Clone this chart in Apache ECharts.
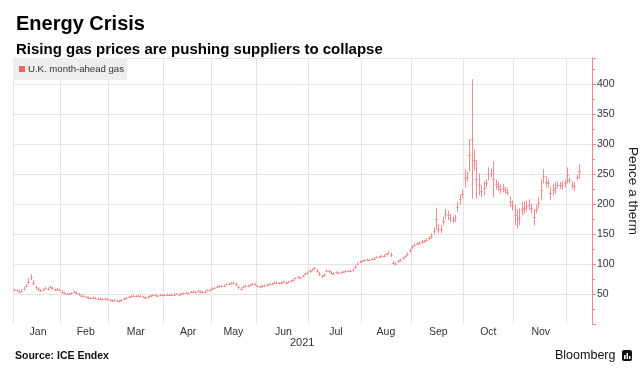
<!DOCTYPE html>
<html>
<head>
<meta charset="utf-8">
<script src="https://cdn.jsdelivr.net/npm/echarts@6/dist/echarts.min.js"></script>
<style>
html,body{margin:0;padding:0;background:#fff;}
#chart{width:643px;height:389px;}
</style>
</head>
<body>
<div id="chart"></div>
<script>
// U.K. month-ahead gas, daily trading range [low, high] in pence per therm, 2021
const jan = [[56,58],[55,57],[53,55],[54,57],[57,61],[62,66],[66,75],[74,82],[65,72],[59,63],[56,60],[54,57],[56,58],[58,61],[57,60],[60,63],[58,61],[56,58],[57,59],[56,58]];
const feb = [[52,55],[50,53],[49,51],[49,51],[50,52],[52,54],[51,53],[48,51],[46,48],[45,47],[44,46],[43,45],[42,44],[43,45],[42,44],[41,43],[41,43],[40,42],[41,43],[40,42]];
const mar = [[39,41],[38,40],[39,41],[38,40],[37,39],[39,41],[41,43],[42,44],[44,46],[45,47],[46,48],[45,47],[46,48],[45,47],[44,46],[43,45],[44,46],[46,48],[47,49],[47,49],[46,48],[47,49],[47,49]];
const apr = [[47,49],[48,50],[47,49],[48,50],[48,50],[49,51],[48,50],[49,51],[50,52],[51,53],[50,52],[52,54],[53,55],[52,54],[54,56],[53,55],[52,54],[53,55],[55,57],[56,58]];
const may = [[58,60],[59,61],[61,63],[62,64],[62,64],[63,65],[65,67],[66,68],[67,69],[68,70],[64,68],[59,63],[57,60],[60,63],[63,65],[62,64],[64,66],[66,68],[65,67]];
const jun = [[62,64],[61,63],[62,64],[63,65],[64,66],[65,67],[66,68],[68,70],[68,70],[67,69],[68,70],[69,71],[68,70],[69,71],[71,73],[73,75],[75,77],[77,79],[76,78],[79,81],[82,84],[84,87]];
const jul = [[86,90],[89,92],[91,94],[86,91],[81,86],[78,81],[80,84],[87,90],[86,89],[84,87],[83,85],[85,87],[84,86],[85,87],[86,88],[87,89],[87,89],[88,90],[89,92],[93,97],[99,102],[102,105]];
const aug = [[104,106],[105,107],[106,108],[106,108],[107,109],[108,110],[110,112],[111,113],[112,114],[113,115],[115,117],[117,120],[112,118],[100,104],[99,102],[103,106],[105,108],[108,111],[111,114],[114,118],[120,125]];
const sep = [[125,131],[130,134],[132,136],[133,137],[135,139],[136,140],[138,142],[140,145],[143,150],[150,160],[158,193],[152,166],[152,164],[165,178],[176,190],[174,188],[170,182],[169,178],[171,181],[188,203],[200,215],[210,223]];
const oct = [[228,257],[238,253],[255,307],[210,407],[257,290],[210,273],[215,250],[212,230],[215,237],[228,240],[240,260],[245,258],[212,270],[225,240],[222,236],[218,232],[220,232],[218,228],[215,225],[196,212],[190,205]];
const nov = [[165,198],[160,190],[165,192],[182,202],[185,203],[188,205],[190,207],[185,200],[165,190],[185,198],[193,210],[207,240],[235,257],[228,245],[228,240],[207,228],[215,232],[218,235],[227,237],[226,236],[225,238],[228,240]];
const dec = [[235,260],[235,243],[226,237],[223,235],[240,248],[243,265]];

const monthNames = ['Jan','Feb','Mar','Apr','May','Jun','Jul','Aug','Sep','Oct','Nov','Dec'];
const monthLabels = ['Jan','Feb','Mar','Apr','May','Jun','Jul','Aug','Sep','Oct','Nov',''];
const yTicks = [50,100,150,200,250,300,350,400];
const seriesName = 'U.K. month-ahead gas';
const trailingEmptyDays = 5;

const months = [jan,feb,mar,apr,may,jun,jul,aug,sep,oct,nov,dec];
const categories = [];
const data = [];
const monthStart = {};
const labelAt = {};
months.forEach((m, mi) => {
  const start = categories.length;
  monthStart[start] = true;
  labelAt[start + Math.floor(m.length / 2)] = monthLabels[mi];
  m.forEach((r, d) => {
    data.push([categories.length, r[0], r[1]]);
    categories.push(monthNames[mi] + ' ' + (d + 1));
  });
});
for (let k = 0; k < trailingEmptyDays; k++) categories.push('Dec x' + k);

const RED = '#f28b8e';
const chart = echarts.init(document.getElementById('chart'), null, {renderer: 'canvas'});
const FONT = '"Liberation Sans", Arial, sans-serif';
chart.setOption({
  animation: false,
  textStyle: {fontFamily: FONT},
  title: [
    {text: 'Energy Crisis', left: 11, top: 9, textStyle: {fontSize: 20, fontWeight: 'bold', color: '#000', fontFamily: FONT}},
    {text: 'Rising gas prices are pushing suppliers to collapse', left: 11, top: 37, textStyle: {fontSize: 15, fontWeight: 'bold', color: '#000', fontFamily: FONT}}
  ],
  legend: {
    left: 13, top: 58, orient: 'horizontal',
    backgroundColor: '#eeeeee', borderRadius: 0,
    padding: [6, 3, 6, 6],
    icon: 'rect', itemWidth: 6, itemHeight: 6, itemGap: 4,
    textStyle: {fontSize: 9.6, color: '#333', fontFamily: FONT, padding: [0, 0, 0, -2]},
    data: [{name: seriesName, itemStyle: {color: '#f26464'}}]
  },
  grid: {left: 13, right: 51, top: 58, bottom: 65, containLabel: false, outerBoundsMode: 'none'},
  xAxis: {
    type: 'category', data: categories, boundaryGap: true,
    axisLine: {show: false}, axisTick: {show: false},
    axisLabel: {
      interval: (i) => labelAt[i] !== undefined && labelAt[i] !== '',
      formatter: (v, i) => labelAt[i] || '',
      fontSize: 10.5, color: '#333', margin: 3, fontFamily: FONT
    },
    splitLine: {show: true, interval: (i) => !!monthStart[i], lineStyle: {color: '#e4e4e4', width: 1}}
  },
  yAxis: {
    type: 'value', position: 'right', min: 0, max: 443, interval: 50,
    name: 'Pence a therm', nameLocation: 'middle', nameGap: 17, nameRotate: -90,
    nameTextStyle: {fontSize: 13.5, color: '#222', fontFamily: FONT},
    axisLine: {show: true, lineStyle: {color: '#f4868a', width: 1}},
    axisTick: {show: true, length: 4, lineStyle: {color: '#f4868a'}},
    minorTick: {show: true, splitNumber: 2, length: 3, lineStyle: {color: '#f4868a'}},
    axisLabel: {
      fontSize: 10.5, color: '#333', margin: 5, fontFamily: FONT,
      formatter: (v) => yTicks.indexOf(v) >= 0 ? String(v) : ''
    },
    splitLine: {show: true, showMinLine: false, lineStyle: {color: '#e4e4e4', width: 1}}
  },
  series: [{
    name: seriesName,
    type: 'custom',
    itemStyle: {color: RED},
    encode: {x: 0, y: [1, 2]},
    renderItem: (params, api) => {
      const i = api.value(0);
      const lo = api.coord([i, api.value(1)]);
      const hi = api.coord([i, api.value(2)]);
      const mid = api.coord([i, (api.value(1) + api.value(2)) / 2]);
      const x = Math.round(lo[0]) + 0.5;
      const w = api.size([1, 0])[0] / 2;
      const my = Math.round(mid[1]) + 0.5;
      return {
        type: 'group',
        children: [
          {type: 'line', shape: {x1: x, y1: lo[1] + 0.5, x2: x, y2: hi[1] - 0.5}, style: {stroke: RED, lineWidth: 1}},
          {type: 'line', shape: {x1: x - w, y1: my, x2: x + w, y2: my}, style: {stroke: RED, lineWidth: 1}}
        ]
      };
    },
    data: data
  }],
  graphic: [
    {type: 'text', left: 290, top: 337, style: {text: '2021', fontSize: 11, fill: '#333', fontFamily: FONT}},
    {type: 'text', left: 15, top: 351, style: {text: 'Source: ICE Endex', fontSize: 10.5, fontWeight: 'bold', fill: '#111', fontFamily: FONT}},
    {type: 'text', left: 555, top: 349, style: {text: 'Bloomberg', fontSize: 12.5, fill: '#111', fontFamily: FONT}},
    {type: 'rect', left: 622, top: 350, shape: {width: 10, height: 11, r: 2}, style: {fill: '#111'}},
    {type: 'rect', left: 624, top: 355, shape: {width: 1.5, height: 4}, style: {fill: '#fff'}},
    {type: 'rect', left: 626.5, top: 353, shape: {width: 1.5, height: 6}, style: {fill: '#fff'}},
    {type: 'rect', left: 629, top: 356, shape: {width: 1.5, height: 3}, style: {fill: '#fff'}}
  ]
});
</script>
</body>
</html>
